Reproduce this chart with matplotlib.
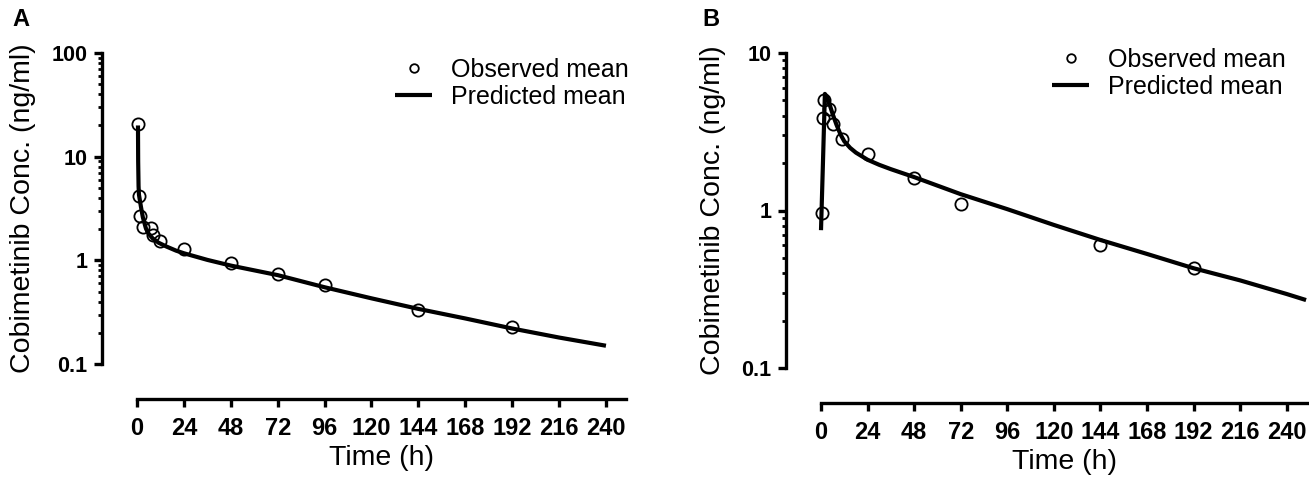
import matplotlib
matplotlib.use("Agg")
import matplotlib.pyplot as plt
from matplotlib.ticker import LogLocator, FixedLocator, FixedFormatter, NullFormatter

plt.rcParams['font.family'] = ['Liberation Sans', 'DejaVu Sans']

# Panel A - observed and predicted mean
obs_t_a = [0.5, 1, 1.5, 3, 7, 8, 12, 24, 48, 72, 96, 144, 192]
obs_c_a = [20.5, 4.2, 2.7, 2.1, 2.05, 1.75, 1.55, 1.3, 0.94, 0.74, 0.58, 0.33, 0.225]
pred_t_a = [0.5, 0.6, 0.8, 1, 2, 3, 4.5, 6, 8, 11, 15, 20, 24, 36, 48, 72, 96, 120, 144, 168, 192, 216, 240]
pred_c_a = [20, 9, 5.2, 4.3, 3.3, 2.6, 2.05, 1.8, 1.63, 1.48, 1.36, 1.24, 1.17, 1.01, 0.89, 0.72, 0.55, 0.43, 0.34, 0.275, 0.22, 0.18, 0.15]

# Panel B - observed and predicted mean
obs_t_b = [0.5, 1, 1.5, 4, 6, 11, 24, 48, 72, 144, 192]
obs_c_b = [0.97, 3.85, 5.0, 4.4, 3.55, 2.86, 2.3, 1.6, 1.1, 0.6, 0.43]
pred_t_b = [0, 1, 2, 3, 4, 6, 8, 10, 12, 15, 18, 24, 30, 36, 48, 72, 96, 120, 144, 168, 192, 216, 240, 250]
pred_c_b = [0.75, 2.0, 5.5, 5.3, 4.9, 4.1, 3.5, 3.05, 2.75, 2.5, 2.33, 2.1, 1.95, 1.83, 1.63, 1.27, 1.02, 0.81, 0.65, 0.53, 0.43, 0.36, 0.295, 0.27]

x_ticks = [0, 24, 48, 72, 96, 120, 144, 168, 192, 216, 240]

W, H = 1309, 482
fig = plt.figure(figsize=(W / 100, H / 100), dpi=100)


def make_axes(left, right, top, bottom):
    return fig.add_axes([left / W, 1 - bottom / H, (right - left) / W, (bottom - top) / H])


def style(ax, ylim, yticks, ylabels, xmax):
    ax.set_yscale('log')
    ax.set_ylim(*ylim)
    ax.set_xlim(0, xmax)
    for s in ['top', 'right']:
        ax.spines[s].set_visible(False)
    ax.spines['left'].set_position(('outward', 25))
    ax.spines['bottom'].set_position(('outward', 25))
    for s in ['left', 'bottom']:
        ax.spines[s].set_linewidth(2.4)
    ax.yaxis.set_major_locator(FixedLocator(yticks))
    ax.yaxis.set_major_formatter(FixedFormatter(ylabels))
    ax.yaxis.set_minor_locator(LogLocator(base=10, subs=range(2, 10)))
    ax.yaxis.set_minor_formatter(NullFormatter())
    ax.set_xticks(x_ticks)
    ax.set_xticklabels([str(t) for t in x_ticks])
    ax.tick_params(axis='both', which='major', length=5.5, width=2.4, pad=4)
    ax.tick_params(axis='y', which='major', labelsize=15.5, pad=5)
    ax.tick_params(axis='y', which='minor', length=3, width=2)
    ax.tick_params(axis='x', labelsize=17, pad=8)
    for lab in ax.get_xticklabels() + ax.get_yticklabels():
        lab.set_fontweight('bold')
    ax.set_ylabel('Cobimetinib Conc. (ng/ml)', fontsize=20.5, labelpad=11)
    ax.set_xlabel('Time (h)', fontsize=20.5, labelpad=3)


ax_a = make_axes(137, 625.5, 53, 364)
ax_b = make_axes(821, 1308, 53, 368)

style(ax_a, (0.1, 100), [0.1, 1, 10, 100], ['0.1', '1', '10', '100'], 250)
style(ax_b, (0.1, 10), [0.1, 1, 10], ['0.1', '1', '10'], 251)

for ax, ot, oc, pt, pc, lx, ly in [
    (ax_a, obs_t_a, obs_c_a, pred_t_a, pred_c_a, 395, 58),
    (ax_b, obs_t_b, obs_c_b, pred_t_b, pred_c_b, 1052, 48),
]:
    ax.plot(pt, pc, color='black', lw=3, solid_capstyle='butt', zorder=2, label='Predicted mean', clip_on=False)
    ax.plot(ot, oc, linestyle='none', marker='o', ms=8.8, mfc='none', mec='black', mew=1.3,
            zorder=3, label='Observed mean', clip_on=False)
    h, l = ax.get_legend_handles_labels()
    ax.legend([h[1], h[0]], [l[1], l[0]], loc='upper left', bbox_to_anchor=(lx / W, 1 - ly / H),
              bbox_transform=fig.transFigure, frameon=False, fontsize=18, borderpad=0,
              borderaxespad=0, handlelength=1.48, handletextpad=0.76, labelspacing=0.1, markerscale=0.7)

fig.text(12 / W, 1 - 20 / H, 'A', fontsize=17, fontweight='bold', va='center', ha='left')
fig.text(702 / W, 1 - 20 / H, 'B', fontsize=17, fontweight='bold', va='center', ha='left')

fig.savefig('out.png', dpi=100)
